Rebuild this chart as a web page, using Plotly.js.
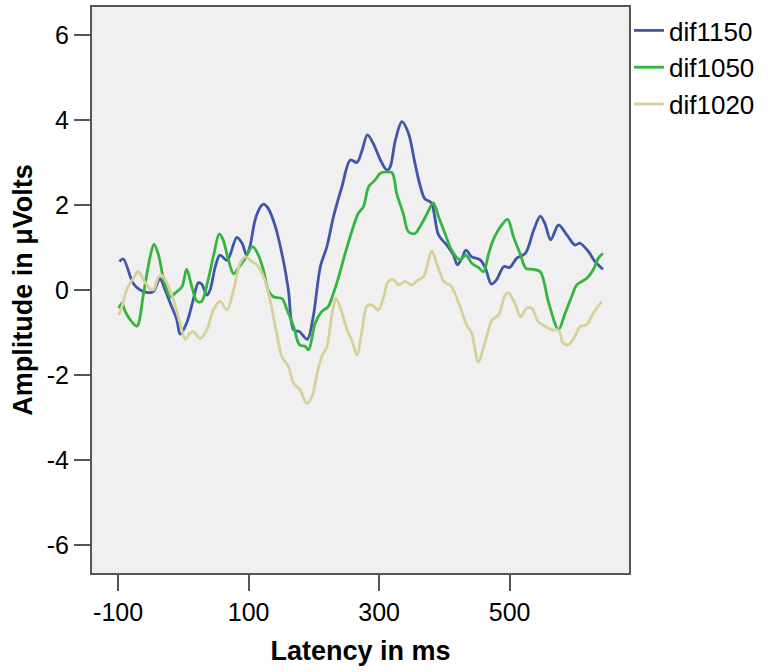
<!DOCTYPE html>
<html>
<head>
<meta charset="utf-8">
<script src="https://cdn.plot.ly/plotly-3.0.1.min.js"></script>
<style>html,body{margin:0;padding:0;background:#fff;}#chart{width:768px;height:672px;}</style>
</head>
<body>
<div id="chart"></div>
<script>
// Series names
const seriesNames = ["dif1150", "dif1050", "dif1020"];
// Tick values on the latency axis
const xTickVals = [-100, 100, 300, 500];
const yTickVals = [-6, -4, -2, 0, 2, 4, 6];

// dif1150 (latency ms, amplitude µV)
const dif1150_ms = [-98,-92,-77,-66,-54,-46,-36,-28,-20,-10,-5,5,15,23,28,36,41,49,56,67,82,90,97,102,110,118,123,130,141,153,161,169,178,190,199,210,220,230,243,256,266,274,282,291,302,312,317,325,335,345,355,363,370,380,391,404,414,420,427,433,442,455,463,472,480,491,500,511,524,537,547,554,563,575,588,600,608,621,631,643];
const dif1150_uv = [0.67,0.73,0.16,0,-0.06,-0.04,0.27,0,-0.31,-0.7,-1.04,-0.78,-0.24,0.17,0.14,-0.12,0,0.55,0.82,0.7,1.24,1.1,0.82,1.02,1.65,1.95,2.02,1.92,1.49,0.71,0,-0.94,-0.98,-1.16,-0.63,0.55,1.02,1.72,2.43,3.06,3.0,3.29,3.65,3.45,3.06,2.82,2.9,3.53,3.96,3.69,2.98,2.45,2.15,2.05,1.3,1.05,0.82,0.59,0.75,0.94,0.78,0.71,0.51,0.14,0.24,0.55,0.53,0.75,0.86,1.41,1.74,1.57,1.18,1.53,1.29,1.06,1.1,0.9,0.67,0.49];

// dif1050
const dif1050_ms = [-99,-94,-89,-79,-71,-61,-51,-45,-38,-31,-20,-13,-2,5,13,21,28,38,47,55,61,69,77,84,95,106,115,123,130,138,151,159,169,178,187,192,202,212,222,230,238,248,258,268,276,284,294,302,312,320,327,337,345,355,363,373,383,391,401,411,424,433,442,452,460,468,475,488,497,506,516,525,534,547,560,575,585,595,603,618,628,636,643];
const dif1050_uv = [-0.43,-0.31,-0.51,-0.75,-0.85,-0.08,0.78,1.08,0.82,0.31,-0.16,-0.08,0.08,0.49,0.08,-0.27,-0.27,0.24,0.86,1.32,1.18,0.71,0.38,0.51,0.75,1.02,0.82,0.45,0.0,-0.16,-0.2,-0.47,-0.86,-1.29,-1.33,-1.41,-0.78,-0.51,-0.39,-0.08,0.31,0.86,1.37,1.8,1.96,2.43,2.59,2.75,2.78,2.76,2.27,1.8,1.37,1.33,1.5,1.78,2.05,1.73,1.33,0.94,0.71,0.82,0.63,0.53,0.43,0.86,1.18,1.53,1.66,1.25,0.86,0.51,0.49,0.43,-0.31,-0.93,-0.55,-0.16,0.12,0.27,0.47,0.75,0.86];

// dif1020
const dif1020_ms = [-99,-94,-87,-77,-69,-61,-54,-46,-38,-33,-25,-15,-5,3,10,15,26,36,46,56,67,77,87,95,105,113,123,133,143,151,161,169,179,189,197,205,212,220,228,234,240,251,258,266,274,281,289,299,307,314,322,330,340,350,360,368,381,388,391,399,404,411,424,434,442,452,462,473,483,493,498,508,517,526,534,544,555,565,575,582,590,600,608,618,628,641];
const dif1020_uv = [-0.59,-0.39,0,0.27,0.43,0.24,0.08,0,0.31,0.35,0.16,-0.24,-0.78,-1.16,-1.02,-0.98,-1.14,-0.94,-0.47,-0.27,-0.47,0,0.63,0.78,0.67,0.59,0.31,-0.24,-1.02,-1.57,-1.8,-2.2,-2.35,-2.67,-2.51,-1.96,-1.57,-1.33,-0.55,-0.2,-0.39,-0.94,-1.18,-1.53,-0.94,-0.39,-0.35,-0.47,-0.16,0.2,0.24,0.12,0.2,0.12,0.24,0.31,0.92,0.63,0.51,0.2,0.15,0.08,-0.39,-0.82,-1.02,-1.69,-1.25,-0.71,-0.59,-0.12,-0.06,-0.31,-0.63,-0.43,-0.43,-0.75,-0.86,-0.94,-0.94,-1.25,-1.29,-1.1,-0.86,-0.82,-0.55,-0.27];

const colors = ["#3f56a9", "#33b53f", "#d6d09b"];
const FONT = "Liberation Sans, Arial, sans-serif";

const xs = [dif1150_ms, dif1050_ms, dif1020_ms];
const ys = [dif1150_uv, dif1050_uv, dif1020_uv];

const traces = seriesNames.map((n, i) => ({
  type: "scatter",
  mode: "lines",
  name: n,
  x: xs[i],
  y: ys[i],
  line: {color: colors[i], width: 2.8, shape: "spline", smoothing: 0.9},
  hoverinfo: "x+y+name"
}));

const layout = {
  width: 768,
  height: 672,
  paper_bgcolor: "#ffffff",
  plot_bgcolor: "#f0f0f0",
  margin: {l: 92, r: 139, t: 7, b: 99},
  font: {family: FONT, size: 24, color: "#000"},
  showlegend: true,
  legend: {
    x: 1.0, xanchor: "left", y: 1.0, yanchor: "top",
    font: {family: FONT, size: 26, color: "#000"},
    bgcolor: "rgba(0,0,0,0)",
    tracegroupgap: 0,
    itemwidth: 30
  },
  xaxis: {
    range: [-140, 683],
    tickvals: xTickVals,
    ticktext: xTickVals.map(String),
    ticks: "outside", ticklen: 16, tickwidth: 2, tickcolor: "#555",
    showline: true, linecolor: "#555", linewidth: 2, mirror: true,
    showgrid: false, zeroline: false,
    tickfont: {family: FONT, size: 25, color: "#000"},
    title: {text: "<b>Latency in ms</b>", font: {family: FONT, size: 27, color: "#000"}, standoff: 16}
  },
  yaxis: {
    range: [-6.66, 6.66],
    tickvals: yTickVals,
    ticktext: yTickVals.map(String),
    ticks: "outside", ticklen: 16, tickwidth: 2, tickcolor: "#555",
    showline: true, linecolor: "#555", linewidth: 2, mirror: true,
    showgrid: false, zeroline: false,
    tickfont: {family: FONT, size: 25, color: "#000"},
    title: {text: "<b>Amplitude in μVolts</b>", font: {family: FONT, size: 27, color: "#000"}, standoff: 6}
  }
};

Plotly.newPlot("chart", traces, layout, {displayModeBar: false, staticPlot: true});
</script>
</body>
</html>
